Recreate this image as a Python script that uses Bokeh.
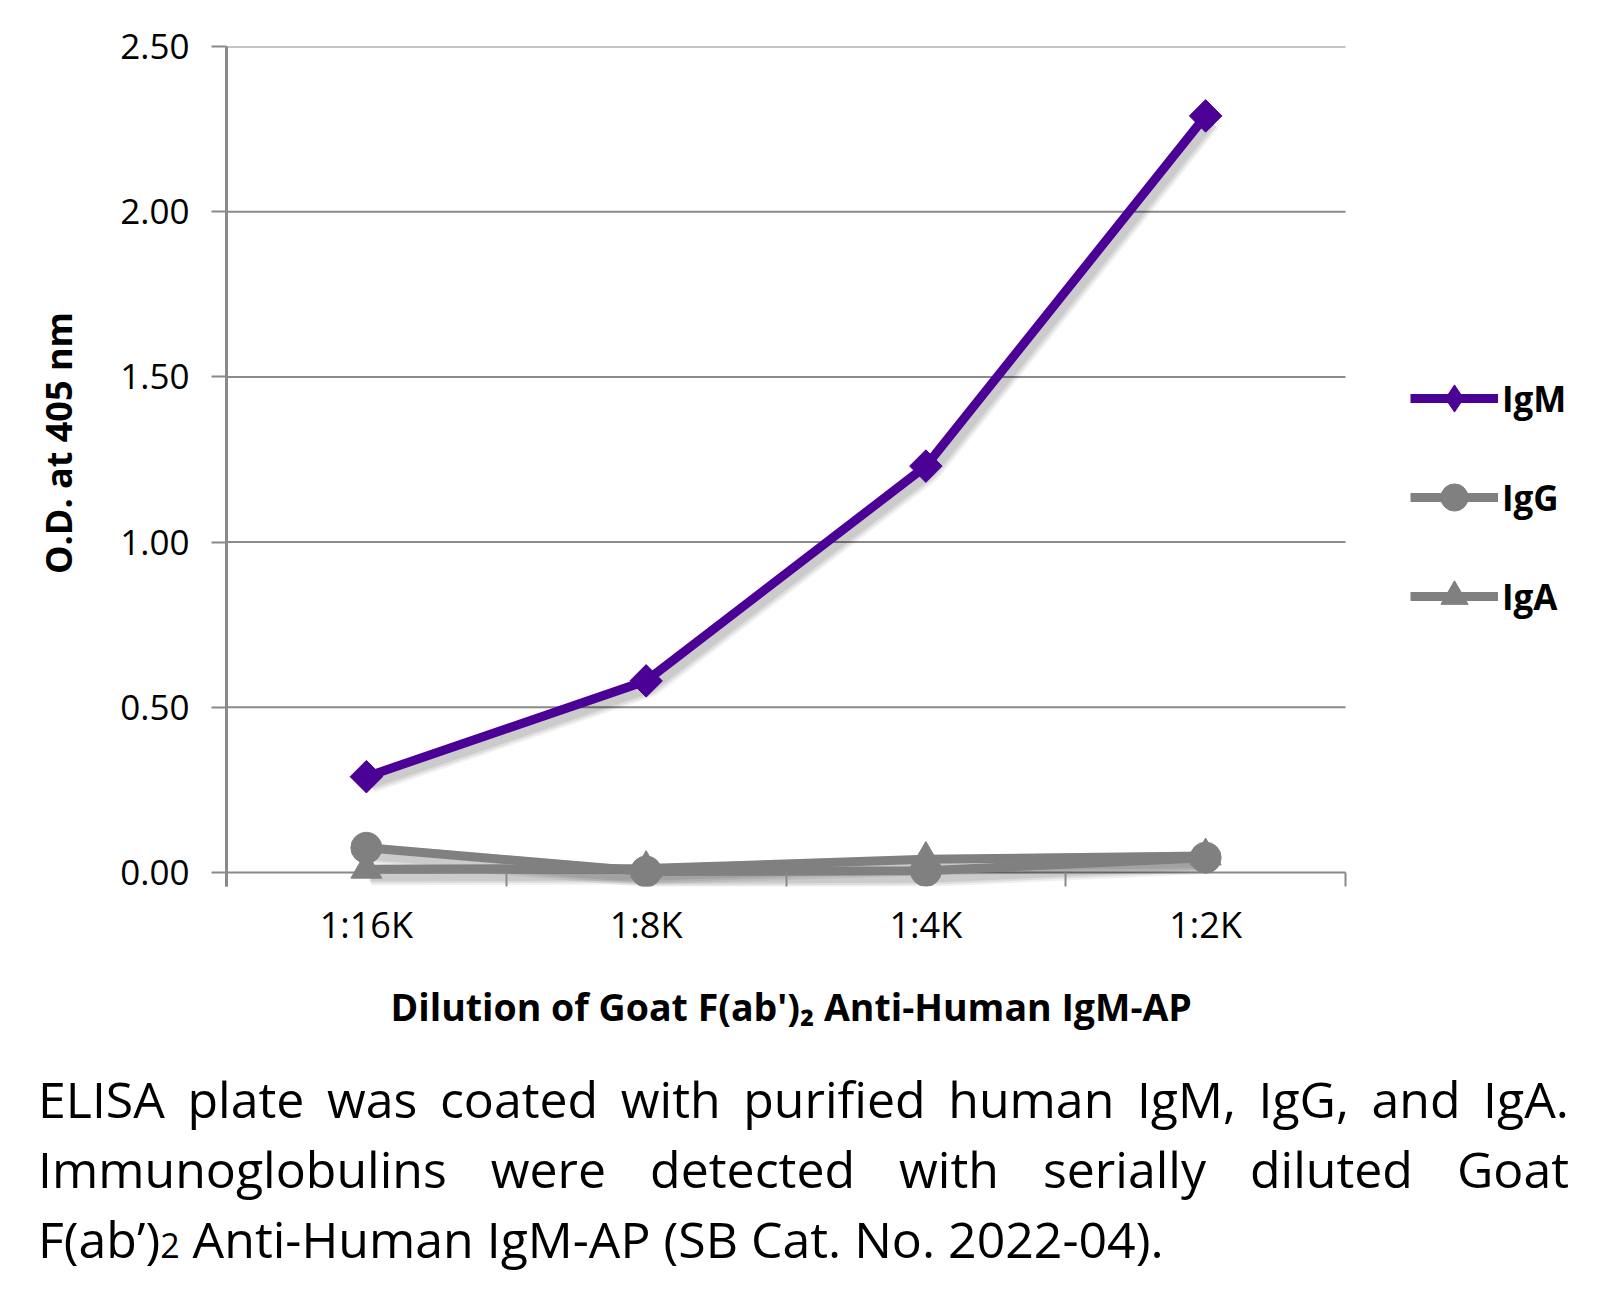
import math
from bokeh.plotting import figure
from bokeh.models import (Range1d, FixedTicker, Legend, LegendItem, Div, Title)
from bokeh.layouts import column
from bokeh.embed import file_html
from bokeh.resources import INLINE

# ---- data ----
categories = ["1:16K", "1:8K", "1:4K", "1:2K"]
igm = [0.29, 0.58, 1.23, 2.29]
igg = [0.075, 0.003, 0.005, 0.045]
iga = [0.01, 0.012, 0.04, 0.05]
y_ticks = [0.0, 0.5, 1.0, 1.5, 2.0, 2.5]
y_tick_labels = ["0.00", "0.50", "1.00", "1.50", "2.00", "2.50"]
x_title = "Dilution of Goat F(ab')\u2082 Anti-Human IgM-AP"
y_title = "\u00a0" * 5 + "O.D. at 405 nm"

PURPLE = "#4b0096"
GRAY = "#808080"
GRID = "#8a8a8a"
FONT = "Open Sans"

n = len(categories)
x_pos = [i + 0.5 for i in range(n)]

W, H = 1598, 1059
ml, mt = 226, 46
plot_right = 1345                  # right edge of the chart area (px)
y_top = 2.5
px_per_unit = (873 - 46) / y_top
y_bot = -14 / px_per_unit          # frame extends 14px below the zero line
frame_bottom = 46 + (y_top - y_bot) * px_per_unit
mb = int(round(H - frame_bottom))
x_end = n * (W - ml) / (plot_right - ml)   # frame also hosts the legend area

p = figure(width=W, height=H, output_backend="svg", toolbar_location=None,
           x_range=Range1d(0, x_end), y_range=Range1d(y_bot, y_top),
           min_border_left=ml, min_border_right=0, min_border_top=mt,
           min_border_bottom=mb, outline_line_color=None)

frame_w = W - ml
frame_h = H - mt - mb
dx = x_end / frame_w
dy = (y_top - y_bot) / frame_h

# x axis (drawn at frame bottom; ticks reach up to the zero line)
xa = p.xaxis[0]
xa.ticker = FixedTicker(ticks=x_pos, minor_ticks=list(range(n + 1)))
xa.major_label_overrides = {x: c for x, c in zip(x_pos, categories)}
xa.major_tick_out = 0
xa.major_tick_in = 0
xa.minor_tick_out = 0
xa.minor_tick_in = 14
xa.minor_tick_line_color = GRID
xa.minor_tick_line_width = 2
xa.axis_line_color = None
xa.major_label_text_font = FONT
xa.major_label_text_font_size = "36px"
xa.major_label_text_color = "black"
xa.major_label_standoff = 13

ya = p.yaxis[0]
ya.ticker = FixedTicker(ticks=y_ticks, minor_ticks=[])
ya.major_label_overrides = {t: l for t, l in zip(y_ticks, y_tick_labels)}
ya.major_tick_out = 15
ya.major_tick_in = 0
ya.major_tick_line_color = GRID
ya.major_tick_line_width = 2
ya.minor_tick_out = 0
ya.minor_tick_in = 0
ya.axis_line_color = GRID
ya.axis_line_width = 3
ya.major_label_text_font = FONT
ya.major_label_text_font_size = "35px"
ya.major_label_text_color = "black"
ya.major_label_standoff = 22
ya.axis_label = y_title
ya.axis_label_text_font = FONT
ya.axis_label_text_font_style = "bold"
ya.axis_label_text_font_size = "36px"
ya.axis_label_text_color = "black"
ya.axis_label_standoff = 34

xt = Title(text=x_title, align="left", offset=390 - ml, standoff=55,
           text_font=FONT, text_font_style="bold", text_font_size="37.5px",
           text_color="black")
p.add_layout(xt, "below")

# horizontal grid lines over the chart area only
p.xgrid.grid_line_color = None
p.ygrid.grid_line_color = None
p.segment(x0=[0] * len(y_ticks), x1=[n] * len(y_ticks), y0=y_ticks, y1=y_ticks,
          line_color=GRID, line_width=2)

# soft drop shadows
for ys in (iga, igg, igm):
    for k, a in ((5, 0.06), (4, 0.08), (3, 0.08)):
        sx = [x + k * dx for x in x_pos]
        sy = [y - (k + 1) * dy for y in ys]
        p.line(sx, sy, line_color="black", line_alpha=a, line_width=10 + 2 * k,
               line_join="round")

# series
iga_l = p.line(x_pos, iga, line_color=GRAY, line_width=9, line_join="round")
iga_m = p.scatter(x_pos, iga, marker="triangle", size=31, fill_color=GRAY, line_color=GRAY)
igg_l = p.line(x_pos, igg, line_color=GRAY, line_width=9, line_join="round")
igg_m = p.scatter(x_pos, igg, marker="circle", size=31, fill_color=GRAY, line_color=GRAY)
igm_l = p.line(x_pos, igm, line_color=PURPLE, line_width=9, line_join="round")
igm_m = p.scatter(x_pos, igm, marker="square", size=23, angle=math.pi / 4,
                  fill_color=PURPLE, line_color=PURPLE)
# legend-only diamond (no visible data point)
igm_leg = p.scatter([float("nan")], [float("nan")], marker="diamond", size=10,
                    fill_color=PURPLE, line_color=PURPLE)

item_h = 68
gap = 99 - item_h
leg_h = 3 * item_h + 2 * gap
leg_top = 399 - item_h / 2
legend = Legend(items=[
    LegendItem(label="IgM", renderers=[igm_l, igm_leg]),
    LegendItem(label="IgG", renderers=[igg_l, igg_m]),
    LegendItem(label="IgA", renderers=[iga_l, iga_m]),
], location=(1410 - ml, frame_bottom - (leg_top + leg_h)))
legend.glyph_width = 88
legend.glyph_height = item_h
legend.label_standoff = 4
legend.spacing = gap
legend.padding = 0
legend.margin = 0
legend.border_line_color = None
legend.background_fill_alpha = 0
legend.label_text_font = FONT
legend.label_text_font_style = "bold"
legend.label_text_font_size = "35px"
legend.label_text_color = "black"
legend.label_height = item_h
p.add_layout(legend, "center")

caption = Div(text=(
    "<div style=\"font-family:'Open Sans';font-size:50px;line-height:70px;color:black;"
    "margin-left:33px;width:1531px;box-sizing:content-box;\">"
    "<div style='text-align:justify;text-align-last:justify;white-space:nowrap;'>"
    "ELISA plate was coated with purified human IgM, IgG, and IgA.</div>"
    "<div style='text-align:justify;text-align-last:justify;white-space:nowrap;'>"
    "Immunoglobulins were detected with serially diluted Goat</div>"
    "<div style='white-space:nowrap;'>F(ab\u2019)<span style='font-size:34px'>2</span> "
    "Anti-Human IgM-AP (SB Cat. No. 2022-04).</div>"
    "</div>"), width=1590, height=220)

layout = column(p, caption, spacing=0)
open("out.html", "w").write(file_html(layout, INLINE))
